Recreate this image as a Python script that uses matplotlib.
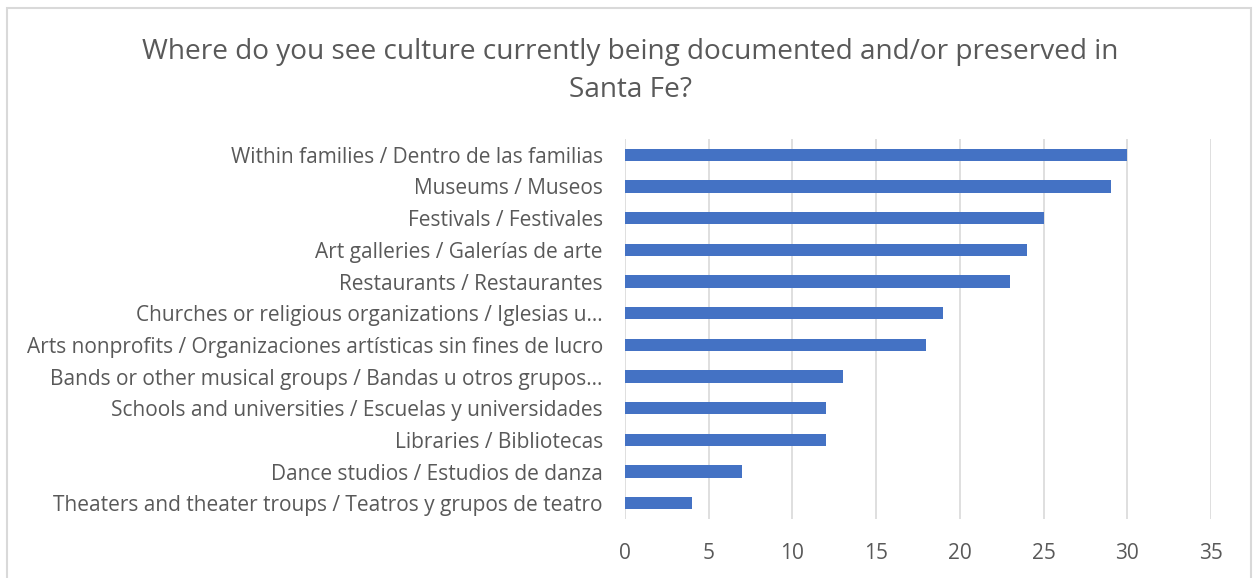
import matplotlib.pyplot as plt
from matplotlib.patches import Rectangle

plt.rcParams['font.family'] = ['Open Sans', 'DejaVu Sans']

categories = [
    "Within families / Dentro de las familias",
    "Museums / Museos",
    "Festivals / Festivales",
    "Art galleries / Galerías de arte",
    "Restaurants / Restaurantes",
    "Churches or religious organizations / Iglesias u…",
    "Arts nonprofits / Organizaciones artísticas sin fines de lucro",
    "Bands or other musical groups / Bandas u otros grupos…",
    "Schools and universities / Escuelas y universidades",
    "Libraries / Bibliotecas",
    "Dance studios / Estudios de danza",
    "Theaters and theater troups / Teatros y grupos de teatro",
]
counts = [30, 29, 25, 24, 23, 19, 18, 13, 12, 12, 7, 4]
xticks = [0, 5, 10, 15, 20, 25, 30, 35]

text_color = "#595959"
bar_color = "#4472C4"

fig = plt.figure(figsize=(12.53, 5.78), dpi=100)
ax = fig.add_axes([625/1253, 1 - 519/578, (1211-625)/1253, (519-139)/578])

pos = list(range(len(categories)))[::-1]
ax.barh(pos, counts, height=0.38, color=bar_color, zorder=3)
ax.set_yticks(pos)
ax.set_yticklabels(categories, fontsize=15, color=text_color)
ax.set_ylim(-0.5, len(categories) - 0.5)
ax.set_xlim(0, 35)
ax.set_xticks(xticks)
ax.set_xticklabels([str(v) for v in xticks], fontsize=15, color=text_color)
ax.grid(axis='x', color='#D9D9D9', linewidth=1.2, zorder=0)
ax.tick_params(axis='both', length=0)
ax.tick_params(axis='y', pad=16)
ax.tick_params(axis='x', pad=17)
for s in ax.spines.values():
    s.set_visible(False)

fig.text(0.503, 1 - 71/578,
         "Where do you see culture currently being documented and/or preserved in\nSanta Fe?",
         ha='center', va='center', fontsize=20.2, color=text_color, linespacing=1.5)

# chart border
fig.patches.append(Rectangle((7/1253, -0.01), (1251-7)/1253, 1 - 8/578 + 0.01,
                             transform=fig.transFigure, fill=False,
                             edgecolor='#D9D9D9', linewidth=1.5))

fig.savefig("out.png", dpi=100)
